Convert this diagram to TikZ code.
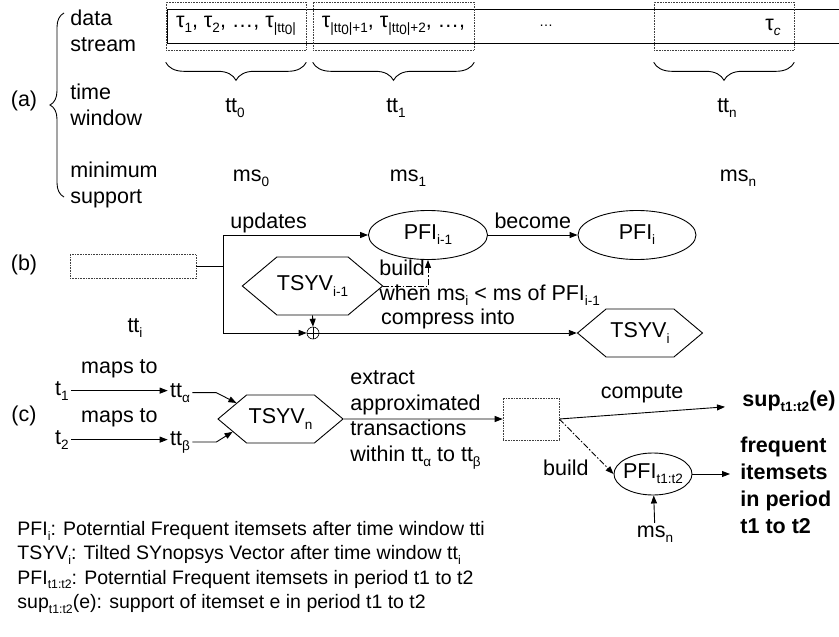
\documentclass[tikz,border=0pt]{standalone}
\usepackage{fontspec}
\usepackage{graphicx}
\setmainfont{Liberation Sans}
\usetikzlibrary{arrows.meta,shapes.geometric,shapes.symbols,decorations.pathreplacing}

% text size of the whole picture, and a lowered small index
\newcommand{\bigfont}{\fontsize{21.5}{25.5}\selectfont}
\newcommand{\sbs}[1]{\raisebox{-0.24em}{\scalebox{0.63}{#1}}}

\begin{document}
\begin{tikzpicture}
    [x=1pt,y=-1pt,font=\bigfont,line width=0.9pt,
     every node/.style={inner sep=2pt},
     >={Triangle[length=8pt,width=6pt]},
     lbl/.style={anchor=base},
     dotbox/.style={draw=black!75,densely dotted,line width=0.6pt,inner sep=0pt},
     oval/.style={draw,ellipse,inner sep=0pt,minimum width=119,minimum height=49},
     hexa/.style={draw,signal,signal to=west and east,signal pointer angle=80,
                  inner sep=0pt,minimum width=125,minimum height=48},
     dashdot/.style={dash pattern=on 6pt off 2pt on 1.5pt off 2pt},
     joint/.style={circle,draw,line width=0.6pt,minimum size=12,inner sep=0pt,
       path picture={\draw[line width=0.6pt]
         (path picture bounding box.north) -- (path picture bounding box.south)
         (path picture bounding box.west) -- (path picture bounding box.east);}}]
    \useasboundingbox (0,0) rectangle (839,637);

    % (a) stream, windows and supports
    \node (la) at (24,101) {(a)};
    \draw[decorate,decoration={brace,amplitude=14pt}] (64,197) -- (64,13);
    \node[align=left,anchor=west] (ds) at (68,31) {data\\stream};
    \node[align=left,anchor=west] (tw) at (68,105) {time\\window};
    \node[align=left,anchor=west] (mi) at (68,185) {minimum\\support};

    \draw (839,9) -- (167,9) -- (167,43) -- (839,43);
    \node[dotbox,minimum width=140,minimum height=48] (b0) at (236,26)
      {τ\sbs{1}, τ\sbs{2}, …, τ\sbs{|tt\raisebox{-2pt}{0}|}};
    \node[dotbox,minimum width=161,minimum height=48] (b1) at (393.5,26)
      {τ\sbs{|tt\raisebox{-2pt}{0}|+1}, τ\sbs{|tt\raisebox{-2pt}{0}|+2}, …,};
    \node[dotbox,minimum width=140,minimum height=48] (bn) at (724,26) {};
    \node (dots) at (546,26) {\fontsize{14}{14}\selectfont …};
    \node (tc) at (773,27) {τ\sbs{\itshape c}};

    \foreach \w in {b0,b1,bn}
      \draw[decorate,decoration={brace,amplitude=18pt}]
        ([yshift=-12pt]\w.south east) -- ([yshift=-12pt]\w.south west);

    \node[lbl] (tt0) at (235,112) {tt\sbs{0}};
    \node[lbl] (tt1) at (396,112) {tt\sbs{1}};
    \node[lbl] (ttn) at (727,112) {tt\sbs{n}};
    \node[lbl] (ms0) at (251,181) {ms\sbs{0}};
    \node[lbl] (ms1) at (408,181) {ms\sbs{1}};
    \node[lbl] (msn) at (738,181) {ms\sbs{n}};

    % (b) one new window
    \node (lb) at (24,265) {(b)};
    \node[dotbox,minimum width=126,minimum height=24] (cur) at (133,266.5) {};
    \node[lbl] (curl) at (135,332) {tt\sbs{i}};
    \coordinate (J) at (223,266.5);
    \node[oval] (pfiA) at (428,235) {PFI\sbs{i-1}};
    \node[oval,minimum width=118] (pfiB) at (637,235) {PFI\sbs{i}};
    \node[hexa,minimum height=58] (tsyvA) at (312.5,286) {TSYV\sbs{i-1}};
    \node[joint] (plus) at (313,333) {};
    \node[hexa] (tsyvB) at (640,333) {TSYV\sbs{i}};

    \draw (cur.east) -- (J);
    \draw[->] (J) |- (pfiA.west) node[pos=0.5,above right,xshift=5pt] {updates};
    \draw[->] (pfiA) -- (pfiB) node[midway,above=4pt] {become};
    \draw[->,dashdot] (tsyvA.east) -| (pfiA.south);
    \node[anchor=base west] (bd) at (377,275) {build};
    \node[anchor=base west] (wh) at (377,300) {when ms\sbs{i} < ms of PFI\sbs{i-1}};
    \draw[->] (tsyvA.south) -- (plus.north);
    \draw[->] (J) |- (plus.west);
    \draw[->] (plus.east) -- (tsyvB.west) node[midway,above=2pt] {compress into};

    % (c) query over a period
    \node (lc) at (24,416) {(c)};
    \node[lbl] (t1) at (62,395) {t\sbs{1}};
    \node[lbl] (t2) at (62,444) {t\sbs{2}};
    \node[lbl] (ta) at (180,397) {tt\sbs{α}};
    \node[lbl] (tb) at (180,445) {tt\sbs{β}};
    \node[hexa] (tsyvN) at (280.5,419) {TSYV\sbs{n}};
    \node[dotbox,minimum width=56,minimum height=42] (sq) at (531,419) {};
    \node[lbl] (sup) at (789,406) {\bfseries sup\sbs{t1:t2}(e)};
    \node[oval,minimum width=78,minimum height=42,inner sep=-3pt] (pfiP) at (653,474) {PFI\sbs{t1:t2}};
    \node[lbl] (msN) at (655,537) {ms\sbs{n}};

    \draw[->] (t1.east) -- (t1.east -| ta.west) node[midway,above=10pt] {maps to};
    \draw[->] (t2.east) -- (t2.east -| tb.west) node[midway,above=10pt] {maps to};
    \draw[->] (ta.east) -- ++(24,0) -- (tsyvN.160);
    \draw[->] (tb.east) -- ++(24,0) -- (tsyvN.195);
    \draw[->] (tsyvN) -- (sq);
    \node[align=left,anchor=west] (ex) at (348,420)
      {extract\\approximated\\transactions\\within tt\sbs{α} to tt\sbs{β}};
    \draw[->] (sq.east) -- ([xshift=-15pt,yshift=-6pt]sup.west) node[midway,above=8pt] {compute};
    \draw[->,dashdot] (sq.east) -- (pfiP.west);
    \node[anchor=base east] (bd2) at (591,475) {build};
    \draw[->] (msN) -- (pfiP);
    \node[align=left,anchor=west,font=\fontsize{21.5}{27}\selectfont\bfseries] (freq) at (738,485)
      {frequent\\itemsets\\in period\\t1 to t2};
    \draw[->,shorten >=8pt] (pfiP.east) -- (pfiP.east -| freq.west);

    % key
    \node[align=left,anchor=north west,inner sep=0pt,font=\fontsize{19.5}{24.3}\selectfont] (key) at (17,521)
      {PFI\sbs{i}: Poterntial Frequent itemsets after time window tti\\
       TSYV\sbs{i}: Tilted SYnopsys Vector after time window tt\sbs{i}\\
       PFI\sbs{t1:t2}: Poterntial Frequent itemsets in period t1 to t2\\
       sup\sbs{t1:t2}(e): support of itemset e in period t1 to t2};
\end{tikzpicture}
\end{document}
